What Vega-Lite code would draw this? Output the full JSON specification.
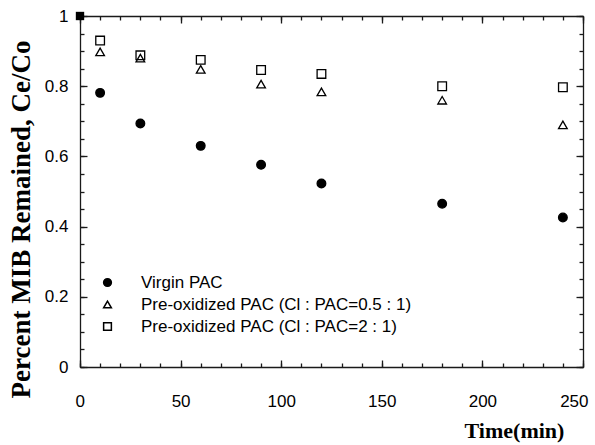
{
  "$schema": "https://vega.github.io/schema/vega-lite/v6.json",
  "width": 503,
  "height": 351,
  "autosize": {"type": "none"},
  "padding": {"left": 80, "top": 16, "right": 12, "bottom": 78},
  "background": "white",
  "datasets": {
    "main": [
      {"time": 10, "value": 0.781, "series": "Virgin PAC"},
      {"time": 30, "value": 0.694, "series": "Virgin PAC"},
      {"time": 60, "value": 0.630, "series": "Virgin PAC"},
      {"time": 90, "value": 0.576, "series": "Virgin PAC"},
      {"time": 120, "value": 0.523, "series": "Virgin PAC"},
      {"time": 180, "value": 0.465, "series": "Virgin PAC"},
      {"time": 240, "value": 0.426, "series": "Virgin PAC"},
      {"time": 10, "value": 0.898, "series": "Pre-oxidized PAC (Cl : PAC=0.5 : 1)"},
      {"time": 30, "value": 0.880, "series": "Pre-oxidized PAC (Cl : PAC=0.5 : 1)"},
      {"time": 60, "value": 0.848, "series": "Pre-oxidized PAC (Cl : PAC=0.5 : 1)"},
      {"time": 90, "value": 0.806, "series": "Pre-oxidized PAC (Cl : PAC=0.5 : 1)"},
      {"time": 120, "value": 0.784, "series": "Pre-oxidized PAC (Cl : PAC=0.5 : 1)"},
      {"time": 180, "value": 0.760, "series": "Pre-oxidized PAC (Cl : PAC=0.5 : 1)"},
      {"time": 240, "value": 0.690, "series": "Pre-oxidized PAC (Cl : PAC=0.5 : 1)"},
      {"time": 10, "value": 0.930, "series": "Pre-oxidized PAC (Cl : PAC=2 : 1)"},
      {"time": 30, "value": 0.888, "series": "Pre-oxidized PAC (Cl : PAC=2 : 1)"},
      {"time": 60, "value": 0.875, "series": "Pre-oxidized PAC (Cl : PAC=2 : 1)"},
      {"time": 90, "value": 0.846, "series": "Pre-oxidized PAC (Cl : PAC=2 : 1)"},
      {"time": 120, "value": 0.835, "series": "Pre-oxidized PAC (Cl : PAC=2 : 1)"},
      {"time": 180, "value": 0.800, "series": "Pre-oxidized PAC (Cl : PAC=2 : 1)"},
      {"time": 240, "value": 0.797, "series": "Pre-oxidized PAC (Cl : PAC=2 : 1)"}
    ],
    "initial": [{"time": 0, "value": 1}]
  },
  "resolve": {"axis": {"x": "independent", "y": "independent"}},
  "layer": [
    {
      "data": {"name": "main"},
      "mark": {"type": "point", "filled": true, "stroke": "black", "strokeWidth": 1.3, "opacity": 1, "size": 75},
      "encoding": {
        "x": {"field": "time", "type": "quantitative", "scale": {"domain": [0, 250], "nice": false, "zero": false},
          "axis": {"orient": "bottom", "values": [0, 50, 100, 150, 200, 250], "gridOpacity": 0, "domainColor": "#1a1a1a", "domainWidth": 1.3, "tickColor": "#1a1a1a", "tickWidth": 1.3, "tickSize": -7, "labelPadding": 33, "labelFlush": true, "labelFlushOffset": 5,
            "labelFont": "Liberation Sans", "labelFontSize": 17, "labelColor": "black",
            "title": "Time(min)", "titleColor": "black", "titleFont": "Liberation Serif", "titleFontWeight": "bold", "titleFontSize": 22, "titleX": 434, "titleY": 63, "titleAlign": "center", "titleBaseline": "middle"}},
        "y": {"field": "value", "type": "quantitative", "scale": {"domain": [0, 1], "nice": false, "zero": false},
          "axis": {"orient": "left", "values": [0, 0.2, 0.4, 0.6, 0.8, 1], "format": ".1~f", "gridOpacity": 0, "domainColor": "#1a1a1a", "domainWidth": 1.3, "tickColor": "#1a1a1a", "tickWidth": 1.3, "tickSize": -7, "labelPadding": 19,
            "labelFont": "Liberation Sans", "labelFontSize": 17, "labelColor": "black",
            "title": "Percent MIB Remained, Ce/Co", "titleColor": "black", "titleFont": "Liberation Serif", "titleFontWeight": "bold", "titleFontSize": 27, "titleX": -59, "titleY": 203, "titleAngle": -90, "titleAlign": "center", "titleBaseline": "middle"}},
        "shape": {"field": "series", "type": "nominal",
          "scale": {"domain": ["Virgin PAC", "Pre-oxidized PAC (Cl : PAC=0.5 : 1)", "Pre-oxidized PAC (Cl : PAC=2 : 1)"], "range": ["circle", "triangle-up", "square"]},
          "legend": {"orient": "none", "legendX": 19, "legendY": 258, "title": null, "labelFont": "Liberation Sans", "labelFontSize": 17, "labelColor": "black", "labelOffset": 25, "rowPadding": 4, "padding": 0, "symbolSize": 60, "labelLimit": 400,
            "encode": {"symbols": {"update": {"stroke": {"value": "black"}, "strokeWidth": {"value": 1.2}, "opacity": {"value": 1}}}}}},
        "fill": {"field": "series", "type": "nominal",
          "scale": {"domain": ["Virgin PAC", "Pre-oxidized PAC (Cl : PAC=0.5 : 1)", "Pre-oxidized PAC (Cl : PAC=2 : 1)"], "range": ["black", "transparent", "transparent"]},
          "legend": {"orient": "none", "legendX": 19, "legendY": 258, "title": null, "labelFont": "Liberation Sans", "labelFontSize": 17, "labelColor": "black", "labelOffset": 25, "rowPadding": 4, "padding": 0, "symbolSize": 60, "labelLimit": 400,
            "encode": {"symbols": {"update": {"stroke": {"value": "black"}, "strokeWidth": {"value": 1.2}, "opacity": {"value": 1}}}}}}
      }
    },
    {
      "data": {"name": "main"},
      "mark": {"type": "point", "opacity": 0},
      "encoding": {
        "x": {"field": "time", "type": "quantitative", "axis": {"orient": "bottom", "values": [0,10,20,30,40,50,60,70,80,90,100,110,120,130,140,150,160,170,180,190,200,210,220,230,240,250], "gridOpacity": 0, "tickColor": "#1a1a1a", "tickWidth": 1.3, "tickSize": -4, "labels": false, "domain": false, "title": null}},
        "y": {"field": "value", "type": "quantitative", "axis": {"orient": "left", "values": [0,0.05,0.1,0.15,0.2,0.25,0.3,0.35,0.4,0.45,0.5,0.55,0.6,0.65,0.7,0.75,0.8,0.85,0.9,0.95,1], "gridOpacity": 0, "tickColor": "#1a1a1a", "tickWidth": 1.3, "tickSize": -4, "labels": false, "domain": false, "title": null}}
      }
    },
    {
      "data": {"name": "main"},
      "mark": {"type": "point", "opacity": 0},
      "encoding": {
        "x": {"field": "time", "type": "quantitative", "axis": {"orient": "top", "values": [0, 50, 100, 150, 200, 250], "gridOpacity": 0, "domainColor": "#1a1a1a", "domainWidth": 1.3, "tickColor": "#1a1a1a", "tickWidth": 1.3, "tickSize": -7, "labels": false, "title": null}},
        "y": {"field": "value", "type": "quantitative", "axis": {"orient": "right", "values": [0, 0.2, 0.4, 0.6, 0.8, 1], "gridOpacity": 0, "domainColor": "#1a1a1a", "domainWidth": 1.3, "tickColor": "#1a1a1a", "tickWidth": 1.3, "tickSize": -7, "labels": false, "title": null}}
      }
    },
    {
      "data": {"name": "initial"},
      "mark": {"type": "point", "shape": "square", "filled": true, "color": "black", "opacity": 1, "size": 70},
      "encoding": {
        "x": {"field": "time", "type": "quantitative", "axis": {"orient": "top", "values": [0,10,20,30,40,50,60,70,80,90,100,110,120,130,140,150,160,170,180,190,200,210,220,230,240,250], "gridOpacity": 0, "tickColor": "#1a1a1a", "tickWidth": 1.3, "tickSize": -4, "labels": false, "domain": false, "title": null}},
        "y": {"field": "value", "type": "quantitative", "axis": {"orient": "right", "values": [0,0.05,0.1,0.15,0.2,0.25,0.3,0.35,0.4,0.45,0.5,0.55,0.6,0.65,0.7,0.75,0.8,0.85,0.9,0.95,1], "gridOpacity": 0, "tickColor": "#1a1a1a", "tickWidth": 1.3, "tickSize": -4, "labels": false, "domain": false, "title": null}}
      }
    }
  ]
}
